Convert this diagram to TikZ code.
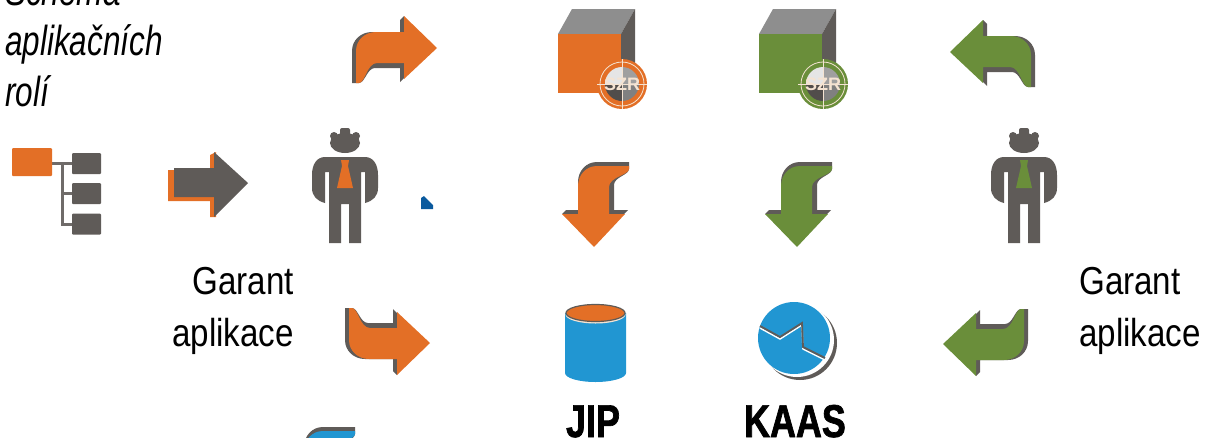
\documentclass[tikz,border=0pt]{standalone}
\usepackage{fontspec}
\newfontfamily\labelfont[FakeStretch=.85]{Liberation Sans}
\newfontfamily\titlefont[FakeStretch=.75,ItalicFont={Liberation Sans Italic}]{Liberation Sans}
\newfontfamily\systemfont[FakeStretch=.78,FakeBold=1.5]{Liberation Sans Bold}
\newfontfamily\badgefont{Liberation Sans Bold}
\definecolor{roleorange}{HTML}{E36F26}
\definecolor{rolegreen}{HTML}{6A8E3A}
\definecolor{rolegray}{HTML}{5F5B58}
\definecolor{topgray}{HTML}{8E8E8E}
\definecolor{roleblue}{HTML}{2196D2}
\definecolor{darkblue}{HTML}{0A5A9E}
\definecolor{palecross}{HTML}{F4E3D2}
\tikzset{
	garant/.style={font=\labelfont\fontsize{39}{52}\selectfont, inner sep=0pt},
	system/.style={font=\systemfont\fontsize{46}{46}\selectfont, inner sep=0pt, anchor=base},
	title/.style={font=\titlefont\itshape\fontsize{42}{51}\selectfont, inner sep=0pt, anchor=base west},
	treebox/.style={fill=rolegray, rounded corners=1pt},
	treeline/.style={draw=rolegray!90, line width=3pt},
	bendarrow/.pic={
		\fill[rolegray] (-37,34) -- (-37,20) -- (-62,20) .. controls (-70,20) and (-72,35) .. (-78,35) -- (-85,35) -- (-85,3) .. controls (-85,-8) and (-76,-16) .. (-65,-16) -- (-37,-16) -- (-37,-28) -- (-33,-32) -- (-33,30) -- cycle;
		\fill[#1] (-33,-32) -- (0,0) -- (-33,31) -- (-33,15) -- (-60,15) .. controls (-70,15) and (-72,35) .. (-78,35) -- (-81,35) -- (-81,3) .. controls (-81,-8) and (-72,-16) .. (-61,-16) -- (-33,-16) -- cycle;
	},
	person/.pic={
		\fill[rolegray] (0,15) ellipse (15 and 10);
		\fill[rolegray, rounded corners=2pt] (-5,0) rectangle (5,12);
		\fill[rolegray] (-11,8) circle (4);
		\fill[rolegray] (11,8) circle (4);
		\fill[rolegray] (-33,47) .. controls (-33,36) and (-28,29) .. (-20,29) -- (20,29) .. controls (28,29) and (33,36) .. (33,47) -- (33,60) .. controls (33,68) and (28,73) .. (20,75) -- (20,44) -- (16,44) -- (16,115) -- (4,115) -- (4,76) -- (-4,76) -- (-4,115) -- (-16,115) -- (-16,44) -- (-20,44) -- (-20,75) .. controls (-28,73) and (-33,68) .. (-33,60) -- cycle;
		\fill[#1] (-4,32) -- (4,32) -- (3,38) -- (8,60) -- (-8,60) -- (-3,38) -- cycle;
	},
	szrcube/.pic={
		% origin is the top left corner of the front face
		\fill[topgray] (0,0) -- (14,-25) -- (77,-25) -- (63,0) -- cycle;
		\fill[rolegray] (63,0) -- (77,-25) -- (77,45) -- (63,59) -- cycle;
		\fill[#1] (0,0) rectangle (63,59);
		\fill[#1] (64,50) circle (25);
		\fill[white!80!gray] (64,50) -- (64,33) arc (270:180:17) -- cycle;
		\fill[gray!75] (64,50) -- (81,50) arc (0:-90:17) -- cycle;
		\fill[rolegray!85!black] (64,50) -- (47,50) arc (180:90:17) -- cycle;
		\fill[gray] (64,50) -- (64,67) arc (90:0:17) -- cycle;
		\draw[palecross, thick] (64,50) circle (22);
		\draw[palecross, thick] (39,50) -- (89,50) (64,25) -- (64,75);
		\node[font=\badgefont\fontsize{18}{18}\selectfont, text=palecross, inner sep=0pt] (-szr) at (64,50) {SZR};
	}
}
\begin{document}
\begin{tikzpicture}[x=1pt, y=-1pt]
	\useasboundingbox (0,0) rectangle (1205,437);
	\clip (0,0) rectangle (1205,437);

	\node[title] (schema) at (5,5) {Schéma};
	\node[title] (aplikacnich) at (5,55) {aplikačních};
	\node[title] (roli) at (5,106) {rolí};

	% org tree
	\coordinate (root) at (52,163.5);
	\coordinate (trunk) at (62,163.5);
	\node[treebox, minimum width=29pt, minimum height=21pt] (leafa) at (86.5,163.5) {};
	\node[treebox, minimum width=29pt, minimum height=21pt] (leafb) at (86.5,193.5) {};
	\node[treebox, minimum width=29pt, minimum height=21pt] (leafc) at (86.5,224) {};
	\draw[treeline] (root) -- (leafa);
	\draw[treeline] (trunk) |- (leafb);
	\draw[treeline] (trunk) |- (leafc);
	\fill[roleorange, rounded corners=1pt] (12,148) rectangle (52,176);

	% entry arrow
	\fill[roleorange] (168,170) -- (210,170) -- (210,155) -- (216,152) -- (216,217) -- (210,217) -- (210,201) -- (168,201) -- cycle;
	\fill[rolegray] (174,168) -- (214,168) -- (214,152) -- (248,183) -- (214,217) -- (214,197) -- (174,197) -- cycle;

	\pic (garantleft) at (345,128) {person=roleorange};
	\pic (garantright) at (1024,128) {person=rolegreen};
	\fill[darkblue] (421,198) -- (424,196) -- (433,205) -- (433,209) -- (421,209) -- cycle;

	\node[garant, align=right, anchor=east] (leftlabel) at (294,311) {Garant\\aplikace};
	\node[garant, align=left, anchor=west] (rightlabel) at (1079,311) {Garant\\aplikace};

	% bent arrows
	\pic (toporange) at (437,48) {bendarrow=roleorange};
	\pic[xscale=-1] (topgreen) at (950,52) {bendarrow=rolegreen};
	\pic[cm={0,-1,-1,0,(0,0)}] (downorange) at (594,247) {bendarrow=roleorange};
	\pic[cm={0,-1,-1,0,(0,0)}] (downgreen) at (797,247) {bendarrow=rolegreen};
	\pic[cm={0,-1,-1,0,(0,0)}] (downblue) at (320,512) {bendarrow=roleblue};
	\pic[yscale=-1] (botorange) at (430,343) {bendarrow=roleorange};
	\pic[xscale=-1, yscale=-1] (botgreen) at (943,344) {bendarrow=rolegreen};

	\pic (cubeorange) at (558,34) {szrcube=roleorange};
	\pic (cubegreen) at (759,34) {szrcube=rolegreen};

	% JIP cylinder
	\fill[roleblue] (565,313) -- (565,373) arc (180:0:30.5 and 9) -- (626,313) -- cycle;
	\fill[palecross] (595.5,314.5) ellipse (30 and 9);
	\draw[fill=roleorange, draw=rolegray, line width=1.2pt] (595.5,313) ellipse (29.5 and 8.5);

	% KAAS pie
	\fill[rolegray] (800,343) ellipse (37 and 37);
	\fill[white] (797,340) ellipse (37 and 37);
	\fill[roleblue] (794,338) ellipse (36 and 36);
	\draw[white, line width=1.5pt] (760,328) -- (780,339) -- (802,325) -- (803,349) -- (825,360);
	\draw[rolegray, line width=1.8pt] (760,326) -- (780,337) -- (802,323) -- (803,347) -- (825,358);

	\node[system] (jip) at (593,437) {JIP};
	\node[system] (kaas) at (795,437) {KAAS};
\end{tikzpicture}
\end{document}
